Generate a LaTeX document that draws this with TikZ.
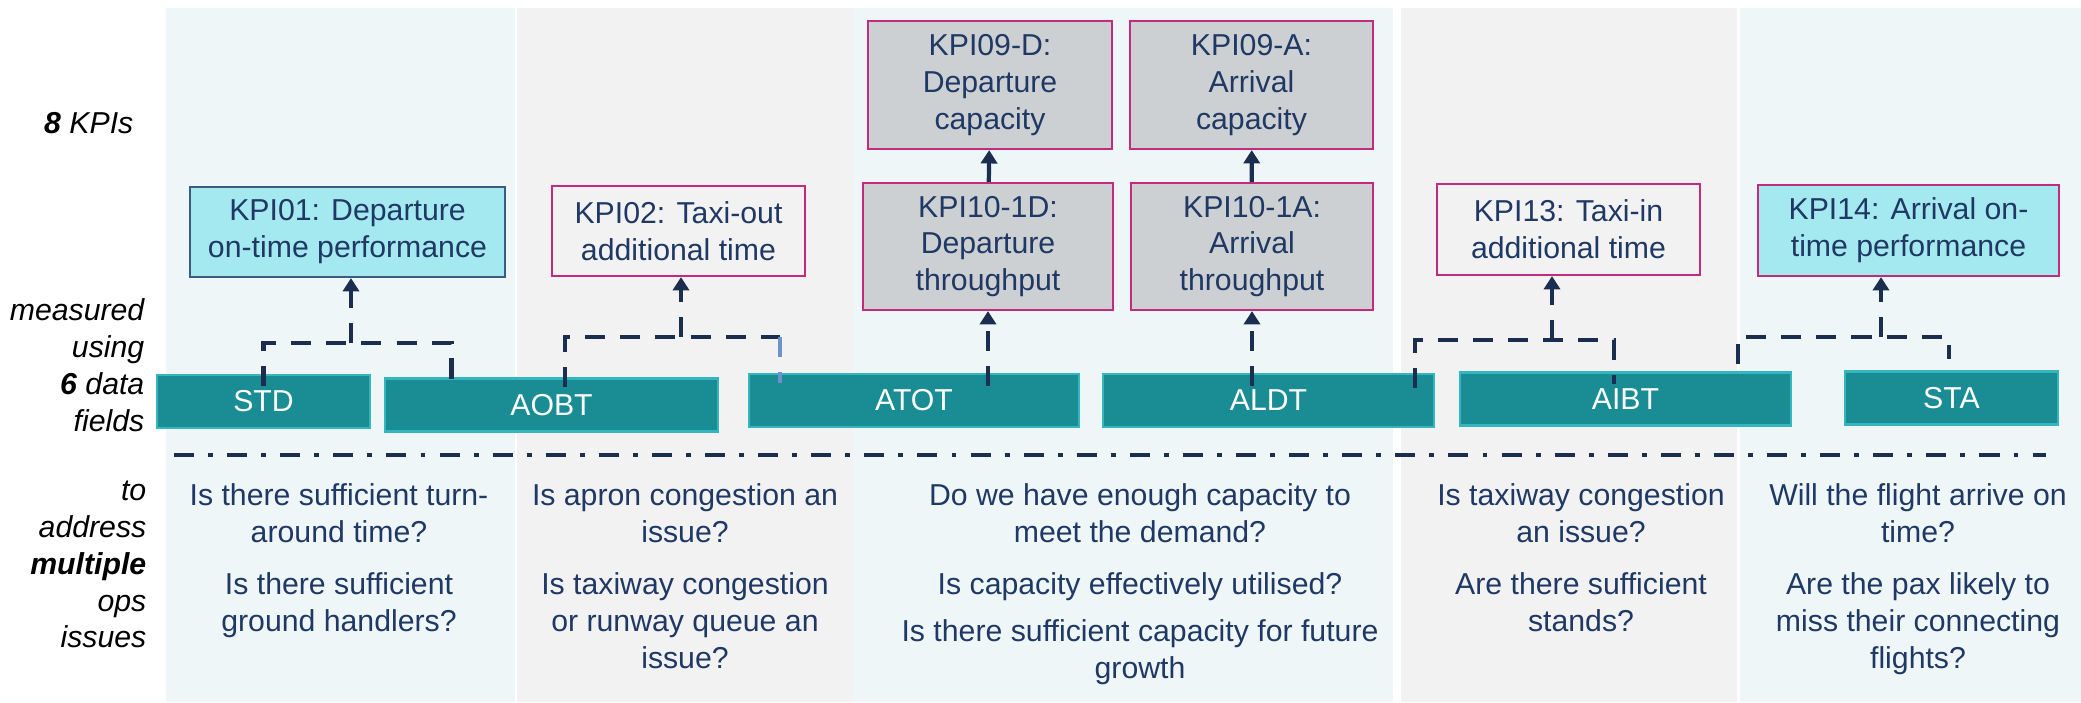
\documentclass[tikz,border=0pt]{standalone}
\usepackage{fontspec}
\setmainfont{Liberation Sans}
\usetikzlibrary{arrows.meta}
\definecolor{colblue}{HTML}{EEF6F8}
\definecolor{colgrey}{HTML}{F2F2F2}
\definecolor{fieldfill}{HTML}{1A8C94}
\definecolor{fieldedge}{HTML}{33B6C0}
\definecolor{kpicyan}{HTML}{A3E9EF}
\definecolor{kpigrey}{HTML}{CDD0D2}
\definecolor{kpiedge}{HTML}{C42B7E}
\definecolor{slate}{HTML}{3D5A80}
\definecolor{navy}{HTML}{1F3864}
\definecolor{busnavy}{HTML}{1B2E50}
\definecolor{steel}{HTML}{6F92CC}
\tikzset{
  field/.style={draw=fieldedge,fill=fieldfill,text=white,line width=0.7pt,minimum height=0.53cm,inner sep=0pt},
  kpi/.style={line width=0.6pt,align=center,text=navy,inner sep=0pt},
  kpiblue/.style={kpi,fill=kpicyan,draw=#1},
  kpibox/.style={kpi,fill=kpigrey,draw=kpiedge},
  kpiopen/.style={kpi,fill=colgrey,draw=kpiedge},
  bus/.style={draw=busnavy,line width=1.2pt,dash pattern=on 5.7pt off 4.3pt},
  uparrow/.style={-{Triangle[width=4.6pt,length=3.8pt]}},
  question/.style={text=navy,align=center,anchor=north,inner sep=0pt},
  sidelabel/.style={align=right,anchor=north east,inner sep=0pt,font=\fontsize{8.6}{10.5}\selectfont\itshape}
}
\begin{document}
\begin{tikzpicture}[x=0.01cm,y=-0.01cm,font=\fontsize{8.6}{10.5}\selectfont]
  \useasboundingbox (0,0) rectangle (2081,702);
  \fill[colblue] (166,8) rectangle (515,702);
  \fill[colgrey] (517,8) rectangle (853,702);
  \fill[colblue] (853,8) rectangle (1393,702);
  \fill[colgrey] (1401,8) rectangle (1737,702);
  \fill[colblue] (1740,8) rectangle (2081,702);

  \node[sidelabel] (kpis) at (134,112) {{\bfseries 8} KPIs};
  \node[sidelabel] (using) at (145,298) {measured\\using\\{\bfseries 6} data\\fields};
  \node[sidelabel] (address) at (147,480) {to\\address\\{\bfseries multiple}\\ops\\issues};

  \node[field,minimum width=2.13cm] (std)  at (263.5,401.5) {STD};
  \node[field,minimum width=3.33cm] (aobt) at (551.5,405)   {AOBT};
  \node[field,minimum width=3.30cm] (atot) at (914,400.5)   {ATOT};
  \node[field,minimum width=3.31cm] (aldt) at (1268.5,400.5){ALDT};
  \node[field,minimum width=3.31cm] (aibt) at (1625.5,399)  {AIBT};
  \node[field,minimum width=2.13cm] (sta)  at (1951.5,398)  {STA};

  \node[kpiblue=slate,minimum width=3.15cm,minimum height=0.90cm] (kpi01) at (347.5,232) {KPI01: Departure\\on-time performance};
  \node[kpiopen,minimum width=2.53cm,minimum height=0.90cm] (kpi02) at (678.5,231) {KPI02: Taxi-out\\additional time};
  \node[kpibox,minimum width=2.44cm,minimum height=1.28cm] (kpi09d) at (990,85) {KPI09-D:\\Departure\\capacity};
  \node[kpibox,minimum width=2.43cm,minimum height=1.28cm] (kpi09a) at (1251.5,85) {KPI09-A:\\Arrival\\capacity};
  \node[kpibox,minimum width=2.50cm,minimum height=1.27cm] (kpi10d) at (988,246.5) {KPI10-1D:\\Departure\\throughput};
  \node[kpibox,minimum width=2.42cm,minimum height=1.27cm] (kpi10a) at (1252,246.5) {KPI10-1A:\\Arrival\\throughput};
  \node[kpiopen,minimum width=2.63cm,minimum height=0.91cm] (kpi13) at (1568.5,229.5) {KPI13: Taxi-in\\additional time};
  \node[kpiblue=kpiedge,minimum width=3.01cm,minimum height=0.91cm] (kpi14) at (1908.5,230.5) {KPI14: Arrival on-\\time performance};

  \coordinate (j01) at (351,343);
  \coordinate (j02) at (681,337);
  \coordinate (j13) at (1552,340);
  \coordinate (j14) at (1881,337);
  \coordinate (r02) at ([xshift=-13.4mm,yshift=-1mm]atot.north);

  \draw[bus] ([yshift=-1.2mm]std.north) |- (j01) -| ([xshift=-10mm,yshift=-1.2mm]aobt.north);
  \draw[bus,uparrow] (j01) -- (j01 |- kpi01.south);
  \draw[bus] ([xshift=1.35mm,yshift=-1mm]aobt.north) |- (j02) -- (j02 -| r02);
  \draw[bus,draw=steel] (j02 -| r02) -- (r02);
  \draw[bus,uparrow] (j02) -- (j02 |- kpi02.south);
  \draw[bus,uparrow] (kpi10d.south |- atot.north) ++(0,13) -- (kpi10d.south);
  \draw[bus,uparrow] (kpi10a.south |- aldt.north) ++(0,13) -- (kpi10a.south);
  \draw[line width=1.2pt,draw=busnavy,uparrow] (kpi10d) -- (kpi09d);
  \draw[line width=1.2pt,draw=busnavy,uparrow] (kpi10a) -- (kpi09a);
  \draw[bus] ([xshift=14.65mm,yshift=-1.5mm]aldt.north) |- (j13) -| ([xshift=-1.15mm,yshift=-1.3mm]aibt.north);
  \draw[bus,uparrow] (j13) -- (j13 |- kpi13.south);
  \draw[bus] ([xshift=11.25mm,yshift=0.7mm]aibt.north) |- (j14) -| ([xshift=-0.25mm,yshift=1.1mm]sta.north);
  \draw[bus,uparrow] (j14) -- (j14 |- kpi14.south);

  \draw[busnavy,line width=1.3pt,dash pattern=on 5.7pt off 4pt on 1.4pt off 4pt] (174,455) -- (2046,455);

  \node[question] (q1) at (339,483) {Is there sufficient turn-\\around time?\\[4.2pt]Is there sufficient\\ground handlers?};
  \node[question] (q2) at (685,483) {Is apron congestion an\\issue?\\[4.2pt]Is taxiway congestion\\or runway queue an\\issue?};
  \node[question] (q3) at (1140,483) {Do we have enough capacity to\\meet the demand?\\[4.2pt]Is capacity effectively utilised?\\[3pt]Is there sufficient capacity for future\\growth};
  \node[question] (q4) at (1581,483) {Is taxiway congestion\\an issue?\\[4.2pt]Are there sufficient\\stands?};
  \node[question] (q5) at (1918,483) {Will the flight arrive on\\time?\\[4.2pt]Are the pax likely to\\miss their connecting\\flights?};
\end{tikzpicture}
\end{document}
